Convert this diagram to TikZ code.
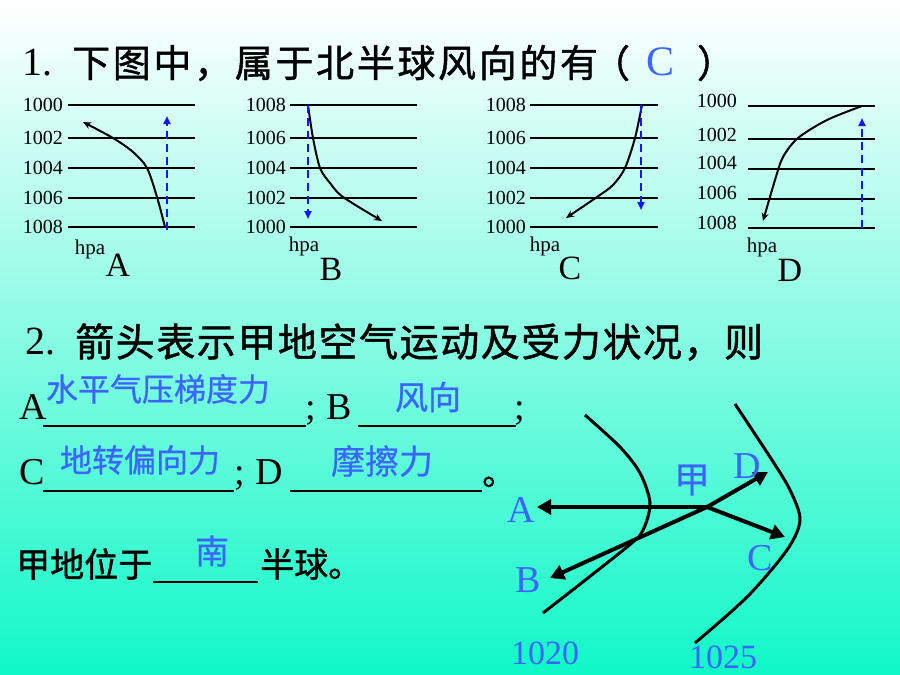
\documentclass[tikz,border=0pt]{standalone}
\usepackage{fontspec}
\setmainfont{Liberation Serif}
\newfontfamily\cjk[FakeBold=1.2]{Noto Sans CJK SC}
\newfontfamily\cjka[FakeBold=0.6]{Noto Sans CJK SC}
\newfontfamily\cjkt[LetterSpace=7,FakeBold=1.2]{Noto Sans CJK SC}
\newfontfamily\cjkl[LetterSpace=4,FakeBold=1.2]{Noto Sans CJK SC}
\usetikzlibrary{arrows.meta}
\definecolor{ans}{RGB}{60,100,255}
\definecolor{bgmid}{RGB}{175,253,230}
\definecolor{bgbot}{RGB}{16,248,200}
\definecolor{dblue}{RGB}{20,20,255}
\newcommand\fs[1]{\fontsize{#1}{#1}\selectfont}
\begin{document}
\begin{tikzpicture}[x=1pt,y=-1pt,
  isobar/.style={line width=2.8pt,black},
  lab/.style={anchor=east,inner sep=0,font={\fs{20}}},
  wind/.style={line width=2pt,-{Stealth[length=8pt,width=7pt]}},
  force/.style={draw=dblue,line width=2.6pt,dash pattern=on 8pt off 5pt,-{Triangle[length=8pt,width=7pt]}},
  hpal/.style={inner sep=0,font={\fs{21}}},
  plet/.style={inner sep=0,font={\fs{34}}},
  bigarr/.style={line width=4pt,-{Triangle[length=14pt,width=15pt]}},
  contour/.style={line width=3pt},
  blab/.style={inner sep=0,text=ans,font={\fs{38}}},
  answer/.style={inner sep=0,text=ans,font={\cjka\fs{32}}},
  blank/.style={line width=1.8pt},
  rowtxt/.style={inner sep=0,font={\fs{38}}},
  cjktxt/.style={inner sep=0,font={\cjk\fs{34}}}
]
\useasboundingbox (0,0) rectangle (900,675);
\shade[top color=white,middle color=bgmid,bottom color=bgbot] (0,0) rectangle (900,675);

% title 1
\node[inner sep=0,anchor=west,font={\fs{40}}] (t1n) at (22,63) {1.};
\node[inner sep=0,anchor=west,font={\cjkt\fs{38}}] (t1) at (72,63) {下图中，属于北半球风向的有};
\node[inner sep=0,font={\cjk\fs{38}}] (t1l) at (611,63) {（};
\node[inner sep=0,text=ans,font={\fs{42}}] (t1c) at (661,62) {C};
\node[inner sep=0,font={\cjk\fs{38}}] (t1r) at (716,63) {）};

% panel A
\foreach \y/\l [count=\i] in {105/1000,138/1002,168/1004,198/1006,227/1008}{
  \draw[isobar] (68,\y) -- (195,\y);
  \node[lab] (la\i) at (63,\y) {\l};
}
\draw[wind] plot[smooth] coordinates {(165,227) (157,197) (147,168) (133,152) (113,138) (83,122)};
\coordinate (fa1) at (167,230); \coordinate (fa2) at (167,116);
\draw[force] (fa1) -- (fa2);
\node[hpal] (ha) at (90,249) {hpa};
\node[plet] (pa) at (118,265) {A};

% panel B
\foreach \y/\l [count=\i] in {105/1008,138/1006,168/1004,198/1002,227/1000}{
  \draw[isobar] (290,\y) -- (417,\y);
  \node[lab] (lb\i) at (286,\y) {\l};
}
\draw[wind] plot[smooth] coordinates {(308,105) (313,138) (320,168) (330,183) (343,197) (382,221)};
\coordinate (fb1) at (308,105); \coordinate (fb2) at (308,219);
\draw[force] (fb1) -- (fb2);
\node[hpal] (hb) at (304,246) {hpa};
\node[plet] (pb) at (331,269) {B};

% panel C
\foreach \y/\l [count=\i] in {105/1008,138/1006,168/1004,198/1002,227/1000}{
  \draw[isobar] (530,\y) -- (658,\y);
  \node[lab] (lc\i) at (526,\y) {\l};
}
\draw[wind] plot[smooth] coordinates {(642,105) (635,138) (625,168) (613,185) (597,197) (566,218)};
\coordinate (fc1) at (641,105); \coordinate (fc2) at (641,210);
\draw[force] (fc1) -- (fc2);
\node[hpal] (hc) at (545,246) {hpa};
\node[plet] (pc) at (570,268) {C};

% panel D
\foreach \y/\ly/\l [count=\i] in {106/101/1000,139/135/1002,169/163/1004,199/193/1006,228/223/1008}{
  \draw[isobar] (748,\y) -- (875,\y);
  \node[lab] (ld\i) at (737,\ly) {\l};
}
\draw[wind] plot[smooth] coordinates {(862,106) (827,120) (798,138) (783,157) (775,180) (763,221)};
\coordinate (fd1) at (862,228); \coordinate (fd2) at (862,118);
\draw[force] (fd1) -- (fd2);
\node[hpal] (hd) at (762,247) {hpa};
\node[plet] (pd) at (790,270) {D};

% question 2
\node[inner sep=0,anchor=west,font={\fs{40}}] (t2n) at (25,342) {2.};
\node[inner sep=0,anchor=west,font={\cjkl\fs{39}}] (t2) at (75,342) {箭头表示甲地空气运动及受力状况，则};

% row A/B
\node[rowtxt,anchor=base west] (ra) at (19,419) {A};
\draw[blank] (43,426) -- (306,426);
\node[rowtxt,anchor=base west] (rs1) at (305,419) {;};
\node[rowtxt,anchor=base west] (rb) at (326,419) {B};
\draw[blank] (358,426) -- (516,426);
\node[rowtxt,anchor=base west] (rs2) at (514,419) {;};
\node[answer] (aa) at (158,389) {水平气压梯度力};
\node[answer,font={\cjka\fs{33}}] (ab) at (428,397) {风向};

% row C/D
\node[rowtxt,anchor=base west] (rc) at (19,484) {C};
\draw[blank] (43,491) -- (234,491);
\node[rowtxt,anchor=base west] (rs3) at (234,484) {;};
\node[rowtxt,anchor=base west] (rd) at (255,484) {D};
\draw[blank] (290,491) -- (482,491);
\node[cjktxt,anchor=base west] (rp) at (482,485) {。};
\node[answer] (ac) at (140,460) {地转偏向力};
\node[answer,font={\cjka\fs{34}}] (ad) at (382,461) {摩擦力};

% row jia
\node[cjktxt,anchor=west] (rj1) at (16,564) {甲地位于};
\draw[blank] (153,582) -- (258,582);
\node[cjktxt,anchor=west] (rj2) at (260,564) {半球。};
\node[answer,font={\cjka\fs{34}}] (an) at (212,551) {南};

% right diagram
\draw[contour] plot[smooth] coordinates {(585,415) (620,447) (640,473) (650,503) (643,530) (627,547) (543,613)};
\draw[contour] plot[smooth] coordinates {(735,404) (770,457) (790,490) (800,520) (787,550) (747,597) (695,643)};
\coordinate (J) at (707,507);
\coordinate (tA) at (537,507);
\coordinate (tB) at (550,578);
\coordinate (tC) at (785,537);
\coordinate (tD) at (768,472);
\draw[bigarr] (J) -- (tA);
\draw[bigarr] (J) -- (tB);
\draw[bigarr] (J) -- (tC);
\draw[bigarr] (J) -- (tD);
\node[blab] (lA) at (521,510) {A};
\node[blab] (lB) at (528,580) {B};
\node[blab] (lC) at (760,558) {C};
\node[blab] (lD) at (747,466) {D};
\node[inner sep=0,text=ans,font={\cjka\fs{36}}] (lJ) at (692,480) {甲};
\node[inner sep=0,text=ans,font={\fs{34}}] (l1020) at (545,653) {1020};
\node[inner sep=0,text=ans,font={\fs{34}}] (l1025) at (723,657) {1025};
\end{tikzpicture}
\end{document}
